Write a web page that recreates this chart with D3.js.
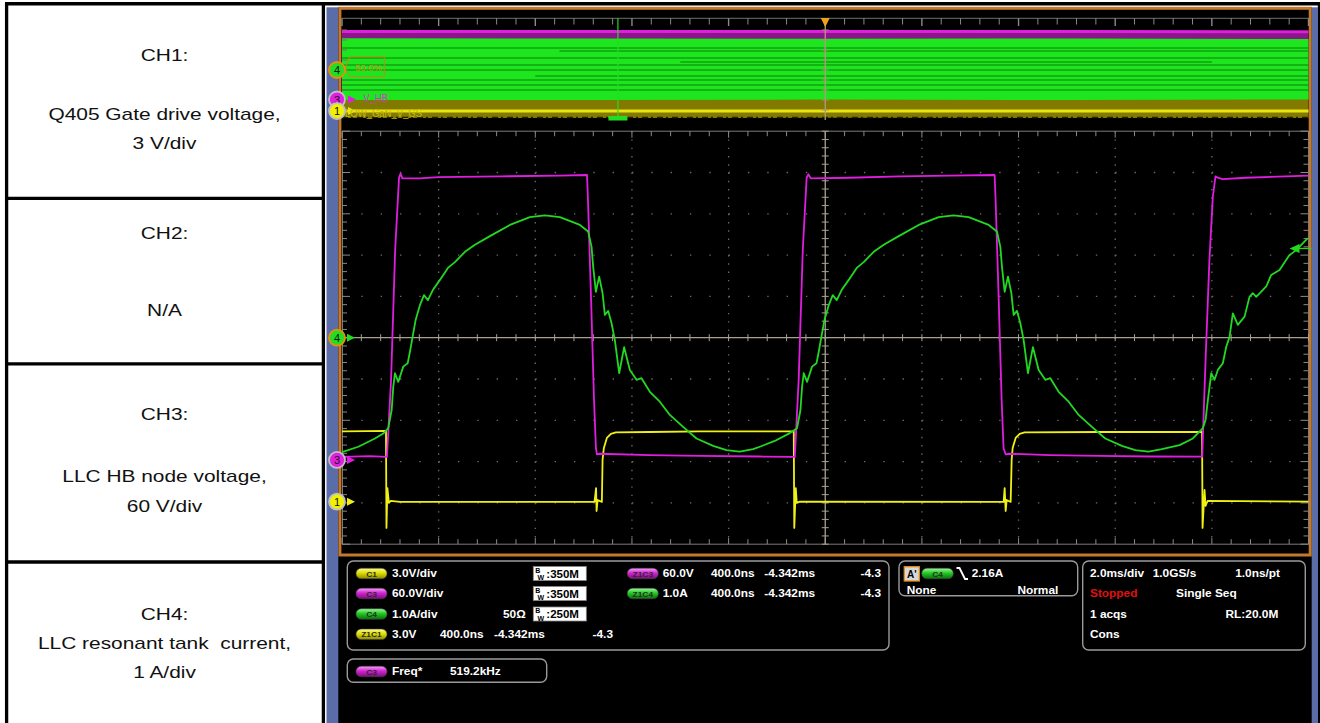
<!DOCTYPE html>
<html>
<head>
<meta charset="utf-8">
<script src="https://cdn.jsdelivr.net/npm/d3@7"></script>
<style>
  body { margin: 0; background: #fff; }
  svg { display: block; }
</style>
</head>
<body>
<svg id="scope" width="1320" height="723"></svg>
<script>
// ---- data ----
// zoom window: time in ns (400 ns/div, trigger at centre)
// CH1 gate drive (V), 3 V/div
const ch1Pts = [
  [-2000, 5.10], [-1900, 5.12], [-1818, 5.14], [-1816, -1.91], [-1812, 0.99], [-1806, -0.09],
  [-1798, 0.05], [-1760, -0.02], [-955, -0.02], [-948.5, 0.99], [-946.4, -0.68], [-942.3, 0.12],
  [-924.5, -0.02], [-921.6, 3.03], [-916.2, 3.90], [-903.8, 4.63], [-887.2, 4.92], [-866.6, 5.03],
  [-726, 5.06], [-519, 5.10], [-130.3, 5.10], [-128.2, -1.91], [-122, 0.99], [-117.9, -0.09],
  [-105.5, 0.0], [738.4, -0.02], [742.5, 0.99], [746.7, -0.68], [750.8, 0.12], [767.3, -0.02],
  [771.5, 3.03], [775.6, 3.90], [788, 4.63], [804.6, 4.92], [825.3, 5.03], [1135.5, 5.06],
  [1559.5, 5.06], [1561.5, -1.91], [1569.8, 0.85], [1573.9, -0.31], [1582.2, 0.05], [2000, 0.0]
];
// CH3 half-bridge node (V), 60 V/div
const ch3Pts = [
  [-2000, 4.4], [-1884, 5.5], [-1818, 4.4], [-1814, 4.4], [-1797, 116], [-1780, 305], [-1764, 410],
  [-1758, 416], [-1750, 409], [-1680, 409], [-1600, 411], [-1346, 412], [-1098, 413], [-986, 414],
  [-982, 378], [-969, 232], [-957, 87], [-949, 17], [-945, 8], [-932, 9], [-726, 7], [-519, 6],
  [-271, 5], [-134, 4.4], [-126, 4.4], [-110, 116], [-93, 305], [-77, 410], [-70, 415], [-60, 409],
  [101, 410], [308, 412], [515, 413], [701, 414], [705, 378], [718, 232], [730, 87], [738, 17],
  [747, 8], [763, 9], [929, 7], [1135, 6], [1342, 5], [1560, 4.8], [1574, 145], [1590, 291],
  [1604, 382], [1615, 412], [1624, 410], [1644, 408], [1742, 410], [2000, 413]
];
// CH4 resonant tank current (A), 1 A/div
const ch4Pts = [
  [-2000, -2.77], [-1932.6, -2.64], [-1863.5, -2.44], [-1829.2, -2.32], [-1808.5, -2.19],
  [-1794.4, -1.75], [-1787.8, -1.19], [-1780.8, -0.86], [-1767.1, -1.07], [-1746.5, -0.70],
  [-1728.3, -0.62], [-1718.8, -0.34], [-1705.1, 0.11], [-1695.2, 0.43], [-1677.4, 0.79],
  [-1660.8, 1.03], [-1644.3, 0.91], [-1623.6, 1.16], [-1594.7, 1.40], [-1561.6, 1.69],
  [-1532.6, 1.83], [-1491.2, 2.08], [-1449.9, 2.25], [-1387.8, 2.46], [-1305.1, 2.73],
  [-1222.4, 2.92], [-1160.3, 2.96], [-1098.3, 2.92], [-1015.5, 2.73], [-981.2, 2.57],
  [-967.1, 2.20], [-960.5, 1.72], [-949.3, 1.11], [-935.7, 1.48], [-921.6, 1.08], [-912.1, 0.55],
  [-898.5, 0.65], [-884.4, 0.35], [-870.7, -0.06], [-852.9, -0.86], [-832.3, -0.23],
  [-808.7, -0.78], [-781.0, -1.02], [-760.3, -0.98], [-726.0, -1.31], [-684.6, -1.55],
  [-643.2, -1.87], [-588.2, -2.16], [-532.8, -2.44], [-464.1, -2.62], [-408.7, -2.72],
  [-353.7, -2.76], [-298.7, -2.70], [-270.9, -2.64], [-208.9, -2.50], [-146.8, -2.31],
  [-116.6, -2.19], [-102.6, -1.75], [-96.0, -1.19], [-88.9, -0.86], [-75.3, -1.07],
  [-54.6, -0.70], [-36.4, -0.62], [-26.9, -0.34], [-13.2, 0.11], [-3.3, 0.43], [14.5, 0.79],
  [31.0, 1.03], [47.6, 0.91], [68.3, 1.16], [97.2, 1.40], [130.3, 1.69], [159.2, 1.83],
  [200.6, 2.08], [242.0, 2.25], [304.0, 2.46], [386.8, 2.73], [469.5, 2.92], [531.5, 2.96],
  [593.6, 2.92], [676.3, 2.73], [710.6, 2.57], [724.7, 2.20], [731.3, 1.72], [742.5, 1.11],
  [756.2, 1.48], [770.2, 1.08], [779.7, 0.55], [793.4, 0.65], [807.4, 0.35], [821.1, -0.06],
  [838.9, -0.86], [859.6, -0.23], [883.2, -0.78], [910.9, -1.02], [931.6, -0.98], [965.9, -1.31],
  [1007.3, -1.55], [1048.7, -1.87], [1103.6, -2.16], [1159.0, -2.44], [1227.7, -2.62],
  [1283.1, -2.72], [1338.1, -2.76], [1393.2, -2.70], [1466.4, -2.60], [1521.4, -2.44],
  [1562.8, -2.19], [1574.0, -1.99], [1583.5, -1.51], [1597.5, -0.86], [1611.2, -1.02],
  [1624.8, -0.78], [1645.5, -0.62], [1659.6, -0.22], [1673.2, 0.02], [1686.9, 0.59],
  [1707.6, 0.31], [1735.3, 0.51], [1756.0, 0.99], [1769.6, 1.08], [1783.7, 0.99],
  [1825.1, 1.24], [1845.7, 1.52], [1880.1, 1.64], [1921.4, 2.00], [1949.1, 2.12], [1997.1, 2.41]
];
const trigLevelA = 2.16;

// overview (whole 20 ms record), time in ms
const ovTimes = [-10, -5, 0, 5, 10];
const ovCh3Max = [418, 418, 417, 417, 415];
const ovCh3Min = [0, 0, 0, 0, 0];
const ovCh3DenseLo = [400, 399, 400, 399, 398];
const ovCh4Max = [3.17, 3.15, 3.12, 3.15, 3.1];
const ovCh4Min = [-3.0, -3.0, -2.95, -3.0, -2.95];
// darker (less visited) current levels inside the overview band: [A, from ms, to ms]
const ovCh4Streaks = [
  [2.2, -10, 10], [1.9, -5.5, 10], [1.2, -10, 10], [0.8, -3, 8], [0.5, -10, 10], [0.0, -10, 10],
  [-0.6, -6, 10], [-1.0, -10, 10], [-1.5, -10, 10], [-2.0, -10, 10]
];
const ovCh1Max = [5.2, 5.2, 5.2, 5.2, 5.2];
const ovCh1Min = [-2.5, -2.5, -2.45, -2.5, -2.5];
const ovCh1DenseLo = [-0.85, -0.85, -0.85, -0.85, -0.85];
const ovCh1DenseHi = [0.05, 0.05, 0.05, 0.05, 0.05];
const zoomPosMs = -4.342;

// left description table
const tableRows = [
  ["CH1:", "", "Q405 Gate drive voltage,", "3 V/div"],
  ["CH2:", "", "N/A"],
  ["CH3:", "", "LLC HB node voltage,", "60 V/div"],
  ["CH4:", "LLC resonant tank  current,", "1 A/div"]
];

// ---- drawing ----
const svg = d3.select("#scope");
const W = 1320, H = 723;
const defs = svg.append("defs");
const pillCols = {
  y: ["#fbfb9a", "#e0e000", "#8c8c00"],
  m: ["#f7a0f7", "#d424d4", "#7c0c7c"],
  g: ["#a4f7a4", "#22cc22", "#0c700c"]
};
Object.keys(pillCols).forEach(k => {
  const gr = defs.append("linearGradient").attr("id", "pill-" + k)
    .attr("x1", 0).attr("y1", 0).attr("x2", 0).attr("y2", 1);
  gr.append("stop").attr("offset", "0%").attr("stop-color", pillCols[k][0]);
  gr.append("stop").attr("offset", "45%").attr("stop-color", pillCols[k][1]);
  gr.append("stop").attr("offset", "100%").attr("stop-color", pillCols[k][2]);
});

svg.append("rect").attr("width", W).attr("height", H).attr("fill", "#fff");

function label(g, x, y, s, o) {
  o = o || {};
  return g.append("text")
    .attr("transform", "translate(" + x + "," + y + ") scale(" + (o.sx || 1.12) + ",1)")
    .attr("font-family", o.font || "'Liberation Sans', Arial, sans-serif")
    .attr("font-size", o.size || 10.6)
    .attr("font-weight", o.weight || "bold")
    .attr("fill", o.fill || "#fff")
    .attr("text-anchor", o.anchor || "start")
    .style("white-space", "pre")
    .text(s);
}

// table
const tbl = svg.append("g");
const rowY = [4.3, 198.3, 363.8, 562, 740];
tbl.append("line").attr("x1", 6.6).attr("x2", 6.6).attr("y1", 2.6).attr("y2", H).attr("stroke", "#000").attr("stroke-width", 3.3);
tbl.append("line").attr("x1", 323.4).attr("x2", 323.4).attr("y1", 2.6).attr("y2", H).attr("stroke", "#000").attr("stroke-width", 3.3);
tbl.append("line").attr("x1", 5).attr("x2", W).attr("y1", 3.8).attr("y2", 3.8).attr("stroke", "#000").attr("stroke-width", 3.6);
tbl.append("line").attr("x1", 1319).attr("x2", 1319).attr("y1", 2).attr("y2", H).attr("stroke", "#000").attr("stroke-width", 2.4);
rowY.slice(1, 4).forEach(y => tbl.append("line").attr("x1", 5).attr("x2", 325).attr("y1", y).attr("y2", y)
  .attr("stroke", "#000").attr("stroke-width", 3.3));
const tblBase = [[61, 0, 120, 148.6], [239, 0, 316], [420, 0, 481.7, 511.7], [620, 649.3, 678.3]];
tableRows.forEach((r, i) => {
  r.forEach((s, j) => {
    if (!s) return;
    label(tbl, 164.5, tblBase[i][j], s, { size: 16.2, weight: "normal", fill: "#111", anchor: "middle", sx: 1.29 });
  });
});

// scope frame
const fr = svg.append("g");
fr.append("rect").attr("x", 326.5).attr("y", 7.3).attr("width", 1318 - 326.5).attr("height", H - 7.3).attr("fill", "#5b6da8");
fr.append("rect").attr("x", 338.3).attr("y", 7.3).attr("width", 1311.7 - 338.3).attr("height", H - 7.3).attr("fill", "#000");
fr.append("rect").attr("x", 339.9).attr("y", 8.3).attr("width", 1310.2 - 339.9).attr("height", 555 - 8.3)
  .attr("fill", "none").attr("stroke", "#c4782c").attr("stroke-width", 3);

// scales
const X0 = 342, X1 = 1308.5;
const xDiv = d3.scaleLinear().domain([0, 10]).range([X0, X1]);
const yDiv = d3.scaleLinear().domain([-5, 5]).range([544.2, 131.2]);
const xT = d3.scaleLinear().domain([-2000, 2000]).range([X0, X1]);
function chScale(perDiv, offDiv) {
  return d3.scaleLinear().domain([0, perDiv]).range([yDiv(offDiv), yDiv(offDiv + 1)]);
}
const y1 = chScale(3, -3.97), y3 = chScale(60, -2.96), y4 = chScale(1, 0);

const ovX = d3.scaleLinear().domain([-10, 10]).range([X0, X1]);
const ovDiv = d3.scaleLinear().domain([-5, 5]).range([120, 20]);
function ovScale(perDiv, offDiv) {
  return d3.scaleLinear().domain([0, perDiv]).range([ovDiv(offDiv), ovDiv(offDiv + 1)]);
}
const o1 = ovScale(3, -3.97), o3 = ovScale(60, -2.96), o4 = ovScale(1, 0);

// ---- overview strip ----
const ov = svg.append("g");
const ovIdx = d3.range(ovTimes.length);
function band(lo, hi, sc, fill) {
  ov.append("path").datum(ovIdx)
    .attr("d", d3.area().x(i => ovX(ovTimes[i])).y0(i => sc(lo[i])).y1(i => sc(hi[i])))
    .attr("fill", fill);
}
band(ovCh3Min, ovCh3Max, o3, "#8a168a");
band(ovCh3DenseLo, ovCh3Max, o3, "#e01ee0");
band(ovCh1Min, ovCh1Max, o1, "#827a00");
band(ovCh1DenseLo, ovCh1DenseHi, o1, "#e8e410");
band(ovCh4Min, ovCh4Max, o4, "#1ee61e");
ov.selectAll("line.streak").data(ovCh4Streaks).enter().append("line").attr("class", "streak")
  .attr("x1", d => ovX(d[1])).attr("x2", d => ovX(d[2])).attr("y1", d => o4(d[0])).attr("y2", d => o4(d[0]))
  .attr("stroke", "#0c8c0c").attr("stroke-width", 1.6).attr("opacity", 0.75);
ov.append("line").attr("x1", X0).attr("x2", X1).attr("y1", ovDiv(-4.75)).attr("y2", ovDiv(-4.75))
  .attr("stroke", "#262000").attr("stroke-width", 1.5).attr("stroke-dasharray", "6,3,2,4");

// overview graticule
ov.append("line").attr("x1", X0).attr("x2", X1).attr("y1", 18.3).attr("y2", 18.3).attr("stroke", "#707070");
ov.selectAll("line.ovt").data(d3.range(0, 51)).enter().append("line").attr("class", "ovt")
  .attr("x1", d => xDiv(d / 5)).attr("x2", d => xDiv(d / 5))
  .attr("y1", 18.3).attr("y2", d => d % 5 ? 24.5 : 26)
  .attr("stroke", "#8a8a8a").attr("stroke-width", d => d % 5 ? 1 : 1.4);
ov.append("line").attr("x1", xDiv(5)).attr("x2", xDiv(5)).attr("y1", 18.3).attr("y2", 120)
  .attr("stroke", "#b49a78").attr("stroke-width", 1.3);
ov.selectAll("line.ovc").data(d3.range(-4, 5)).enter().append("line").attr("class", "ovc")
  .attr("x1", xDiv(5) - 3.5).attr("x2", xDiv(5) + 3.5).attr("y1", d => ovDiv(d)).attr("y2", d => ovDiv(d))
  .attr("stroke", "#a09080");
ov.selectAll("line.ovl").data(d3.range(-4, 5)).enter().append("line").attr("class", "ovl")
  .attr("x1", X0).attr("x2", X0 + 5).attr("y1", d => ovDiv(d)).attr("y2", d => ovDiv(d))
  .attr("stroke", "#707070");
// zoom cursor
const zx = ovX(zoomPosMs) + 2.5;
ov.append("line").attr("x1", zx).attr("x2", zx).attr("y1", 18.3).attr("y2", 117)
  .attr("stroke", "#22dd22").attr("stroke-width", 1.2);
ov.append("rect").attr("x", zx - 9.5).attr("y", 116).attr("width", 19).attr("height", 4.5).attr("fill", "#22dd22");
// trigger position marker
const tx = ovX(0);
ov.append("path").attr("d", "M" + (tx - 4.5) + ",18 L" + (tx + 4.5) + ",18 L" + tx + ",27 Z").attr("fill", "#f0a020");

// overview labels
function chMarker(g, cx, cy, num, fill, ring) {
  g.append("circle").attr("cx", cx).attr("cy", cy).attr("r", 8).attr("fill", fill)
    .attr("stroke", ring).attr("stroke-width", 1.8);
  label(g, cx, cy + 4, num, { size: 11, weight: "normal", fill: "#111", anchor: "middle", sx: 1 });
}
function arrow(g, x, cy, fill) {
  g.append("path").attr("d", "M" + x + "," + (cy - 4) + " L" + (x + 8) + "," + cy + " L" + x + "," + (cy + 4) + " Z").attr("fill", fill);
}
ov.append("path").attr("d", "M345,68 L350,56.7 L384.3,56.7 L384.3,76.7 L350,76.7 Z")
  .attr("fill", "none").attr("stroke", "#c8841c").attr("stroke-width", 1);
label(ov, 355, 71, "50.0%", { size: 9.5, weight: "normal", fill: "#c8901a", sx: 1 });
arrow(ov, 348, 99.5, "#e020e0");
label(ov, 363.3, 102, "V_HB", { size: 10.5, weight: "normal", fill: "#c83cc8", sx: 0.9 });
arrow(ov, 348, 111, "#e8e410");
label(ov, 345, 117.3, "LOW_GaN_V_GS", { size: 10, weight: "normal", fill: "#c8b808", sx: 0.95 });
chMarker(ov, 337, 70, "4", "#22dd22", "#e8900a");
chMarker(ov, 337, 99.5, "3", "#e020e0", "#c0c0c0");
chMarker(ov, 337, 111, "1", "#f0f000", "#c0c0c0");

// ---- main graticule ----
const gr = svg.append("g");
const gridDivs = [1, 2, 3, 4, 6, 7, 8, 9];
gr.selectAll("line.vd").data(gridDivs).enter().append("line").attr("class", "vd")
  .attr("x1", d => xDiv(d)).attr("x2", d => xDiv(d)).attr("y1", yDiv(5)).attr("y2", yDiv(-5))
  .attr("stroke", "#6a6a6a").attr("stroke-width", 1.3).attr("stroke-dasharray", "1.4," + (41.3 / 5 - 1.4));
gr.selectAll("line.hd").data(gridDivs.map(d => d - 5)).enter().append("line").attr("class", "hd")
  .attr("x1", X0).attr("x2", X1).attr("y1", d => yDiv(d)).attr("y2", d => yDiv(d))
  .attr("stroke", "#6a6a6a").attr("stroke-width", 1.3).attr("stroke-dasharray", "1.4," + (96.65 / 5 - 1.4));
// border
gr.append("line").attr("x1", X0).attr("x2", X1).attr("y1", yDiv(5)).attr("y2", yDiv(5)).attr("stroke", "#7a7a7a");
gr.append("line").attr("x1", X0).attr("x2", X1).attr("y1", yDiv(-5)).attr("y2", yDiv(-5)).attr("stroke", "#7a7a7a");
gr.append("line").attr("x1", X0 + 0.5).attr("x2", X0 + 0.5).attr("y1", yDiv(5)).attr("y2", yDiv(-5)).attr("stroke", "#7a7a7a");
gr.append("line").attr("x1", X1).attr("x2", X1).attr("y1", yDiv(5)).attr("y2", yDiv(-5)).attr("stroke", "#7a7a7a");
const hT = d3.range(0, 51), vT = d3.range(0, 51);
gr.selectAll("line.tt").data(hT).enter().append("line").attr("class", "tt")
  .attr("x1", d => xDiv(d / 5)).attr("x2", d => xDiv(d / 5))
  .attr("y1", yDiv(5)).attr("y2", d => yDiv(5) + (d % 5 ? 5 : 6.5)).attr("stroke", "#8a8a8a");
gr.selectAll("line.bt").data(hT).enter().append("line").attr("class", "bt")
  .attr("x1", d => xDiv(d / 5)).attr("x2", d => xDiv(d / 5))
  .attr("y1", yDiv(-5)).attr("y2", d => yDiv(-5) - (d % 5 ? 5 : 6.5)).attr("stroke", "#8a8a8a");
gr.selectAll("line.lt").data(vT).enter().append("line").attr("class", "lt")
  .attr("x1", X0).attr("x2", d => X0 + (d % 5 ? 5 : 8)).attr("y1", d => yDiv(d / 5 - 5)).attr("y2", d => yDiv(d / 5 - 5))
  .attr("stroke", "#8a8a8a");
gr.selectAll("line.rt").data(vT).enter().append("line").attr("class", "rt")
  .attr("x1", X1).attr("x2", d => X1 - (d % 5 ? 5 : 8)).attr("y1", d => yDiv(d / 5 - 5)).attr("y2", d => yDiv(d / 5 - 5))
  .attr("stroke", "#8a8a8a");
// centre cross
gr.append("line").attr("x1", X0).attr("x2", X1).attr("y1", yDiv(0)).attr("y2", yDiv(0)).attr("stroke", "#a8a090").attr("stroke-width", 1.3);
gr.append("line").attr("x1", xDiv(5)).attr("x2", xDiv(5)).attr("y1", yDiv(5)).attr("y2", yDiv(-5)).attr("stroke", "#a8a090").attr("stroke-width", 1.3);
gr.selectAll("line.ch").data(hT).enter().append("line").attr("class", "ch")
  .attr("x1", d => xDiv(d / 5)).attr("x2", d => xDiv(d / 5))
  .attr("y1", yDiv(0) - 3.5).attr("y2", yDiv(0) + 3.5).attr("stroke", "#a8a090");
gr.selectAll("line.cv").data(vT).enter().append("line").attr("class", "cv")
  .attr("x1", xDiv(5) - 3.5).attr("x2", xDiv(5) + 3.5).attr("y1", d => yDiv(d / 5 - 5)).attr("y2", d => yDiv(d / 5 - 5))
  .attr("stroke", "#a8a090");

// ---- waveforms ----
const wv = svg.append("g");
function trace(pts, ys, col) {
  wv.append("path").datum(pts)
    .attr("d", d3.line().x(d => xT(d[0])).y(d => ys(d[1])))
    .attr("fill", "none").attr("stroke", col).attr("stroke-width", 1.8).attr("stroke-linejoin", "round");
}
trace(ch1Pts, y1, "#f0f014");
trace(ch3Pts, y3, "#e01ee0");
trace(ch4Pts, y4, "#22d822");

// trigger level arrow (right edge)
const ty = y4(trigLevelA);
wv.append("line").attr("x1", X1 - 10).attr("x2", X1 + 3).attr("y1", ty).attr("y2", ty).attr("stroke", "#22d822").attr("stroke-width", 1.3);
wv.append("path").attr("d", "M" + (X1 - 19) + "," + ty + " L" + (X1 - 9) + "," + (ty - 4.5) + " L" + (X1 - 9) + "," + (ty + 4.5) + " Z").attr("fill", "#22d822");

// channel ground markers
arrow(wv, 347, y4(0), "#22d822");
arrow(wv, 347, y3(0), "#e01ee0");
arrow(wv, 347, y1(0), "#f0f014");
chMarker(wv, 337, y4(0), "4", "#22dd22", "#e8900a");
chMarker(wv, 337, y3(0), "3", "#e020e0", "#c0c0c0");
chMarker(wv, 337, y1(0), "1", "#f0f000", "#c0c0c0");

// ---- readout panels ----
const rp = svg.append("g");
function panel(x, y, w, h) {
  rp.append("rect").attr("x", x).attr("y", y).attr("width", w).attr("height", h).attr("rx", 6)
    .attr("fill", "none").attr("stroke", "#9a9a9a").attr("stroke-width", 1.4);
}
function pill(x, cy, w, name, col) {
  const h = 10.5;
  rp.append("rect").attr("x", x).attr("y", cy - h / 2).attr("width", w).attr("height", h).attr("rx", h / 2)
    .attr("fill", "url(#pill-" + col + ")").attr("stroke", "#444").attr("stroke-width", 0.6);
  label(rp, x + w / 2, cy + 3, name, { size: 8, anchor: "middle", fill: "#2a2a2a", sx: 1.05 });
}
function bwBox(x, cy, val) {
  rp.append("rect").attr("x", x).attr("y", cy - 7).attr("width", 53).attr("height", 14).attr("fill", "#fff")
    .attr("stroke", "#888").attr("stroke-width", 0.8);
  label(rp, x + 2, cy - 0.8, "B", { size: 7, fill: "#000", sx: 1 });
  label(rp, x + 4.3, cy + 6.5, "W", { size: 7, fill: "#000", sx: 1 });
  label(rp, x + 13, cy + 4, ":" + val, { size: 10.5, fill: "#000", sx: 1.1 });
}
const rows = [573.5, 593.5, 614, 634.3];
const bl = r => rows[r] + 3.8;
panel(347.3, 561, 541.7, 89);
panel(347.3, 659, 199.4, 23.3);
panel(899, 561, 178.7, 34.7);
panel(1082.7, 561, 222.6, 89);

pill(356, rows[0], 31, "C1", "y");
label(rp, 392, bl(0), "3.0V/div");
bwBox(533.3, rows[0], "350M");
pill(356, rows[1], 31, "C3", "m");
label(rp, 392, bl(1), "60.0V/div");
bwBox(533.3, rows[1], "350M");
pill(356, rows[2], 31, "C4", "g");
label(rp, 392, bl(2), "1.0A/div");
label(rp, 503, bl(2), "50\u03A9");
bwBox(533.3, rows[2], "250M");
pill(356, rows[3], 31, "Z1C1", "y");
label(rp, 392, bl(3), "3.0V");
label(rp, 440, bl(3), "400.0ns");
label(rp, 494, bl(3), "-4.342ms");
label(rp, 613, bl(3), "-4.3", { anchor: "end" });

pill(627.3, rows[0], 31, "Z1C3", "m");
label(rp, 662.7, bl(0), "60.0V");
label(rp, 711, bl(0), "400.0ns");
label(rp, 764.3, bl(0), "-4.342ms");
label(rp, 881, bl(0), "-4.3", { anchor: "end" });
pill(627.3, rows[1], 31, "Z1C4", "g");
label(rp, 662.7, bl(1), "1.0A");
label(rp, 711, bl(1), "400.0ns");
label(rp, 764.3, bl(1), "-4.342ms");
label(rp, 881, bl(1), "-4.3", { anchor: "end" });

// trigger panel
rp.append("rect").attr("x", 904.3).attr("y", 566.7).attr("width", 15).attr("height", 14.3)
  .attr("fill", "#d8d8d8").attr("stroke", "#e0901c").attr("stroke-width", 1.3);
label(rp, 911.8, 578, "A'", { size: 10, fill: "#000", anchor: "middle", sx: 1 });
pill(921.7, rows[0], 31.6, "C4", "g");
rp.append("path").attr("d", "M956.5,568 h3 l5.5,11 h3").attr("fill", "none").attr("stroke", "#fff").attr("stroke-width", 1.8);
label(rp, 971.7, bl(0), "2.16A");
label(rp, 906.7, 593.8, "None");
label(rp, 1058.3, 593.8, "Normal", { anchor: "end" });

// acquisition panel
label(rp, 1090, bl(0), "2.0ms/div");
label(rp, 1152.7, bl(0), "1.0GS/s");
label(rp, 1280, bl(0), "1.0ns/pt", { anchor: "end" });
label(rp, 1090, bl(1), "Stopped", { fill: "#e01010" });
label(rp, 1176, bl(1), "Single Seq");
label(rp, 1278.3, bl(2), "RL:20.0M", { anchor: "end" });
label(rp, 1090, bl(2), "1 acqs");
label(rp, 1090, bl(3), "Cons");

// measurement
pill(356, 671.5, 31, "C3", "m");
label(rp, 392, 675.3, "Freq*");
label(rp, 450, 675.3, "519.2kHz");
</script>
</body>
</html>
